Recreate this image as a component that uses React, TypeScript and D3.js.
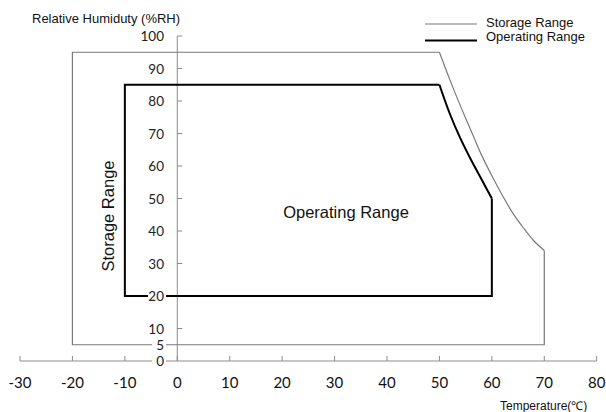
import React from "react";
import * as d3 from "d3";

const xTicks = [-30, -20, -10, 0, 10, 20, 30, 40, 50, 60, 70, 80];
const yTicks = [0, 5, 10, 20, 30, 40, 50, 60, 70, 80, 90, 100];
const yTickMarks = [10, 20, 30, 40, 50, 60, 70, 80, 90, 100];

// Storage range: straight edges (temperature °C, humidity %RH)
const storageEdgeT = [50, -20, -20, 70, 70];
const storageEdgeRH = [95, 95, 5, 5, 34];
// Storage range: curved high-temperature edge
const storageCurveT = [50, 52, 54, 56, 58, 60, 62, 64, 66, 68, 70];
const storageCurveRH = [95, 86.5, 78.5, 71, 63.5, 57, 51, 45.5, 41, 37, 34];
// Operating range: straight edges
const operEdgeT = [50, -10, -10, 60, 60];
const operEdgeRH = [85, 85, 20, 20, 50];
// Operating range: curved edge
const operCurveT = [50, 52, 54, 56, 58, 60];
const operCurveRH = [85, 76, 68.5, 62, 56, 50];

const legendLabels = ["Storage Range", "Operating Range"];

export default function App() {
  const W = 606, H = 412;
  const x = d3.scaleLinear().domain([-30, 80]).range([20, 596.7]);
  const y = d3.scaleLinear().domain([0, 100]).range([361, 36]);
  const lin = d3.line<[number, number]>().x(d => x(d[0])).y(d => y(d[1]));
  const smooth = d3.line<[number, number]>().x(d => x(d[0])).y(d => y(d[1])).curve(d3.curveCatmullRom);
  const zip = (a: number[], b: number[]) => a.map((t, i) => [t, b[i]] as [number, number]);
  const axisColor = "#8c8c8c";
  const tickFont = "Lato, 'Open Sans', sans-serif";
  const textFont = "'Liberation Sans', Arial, sans-serif";
  const storeColor = "#7a7a7a";
  return (
    <svg width={W} height={H} style={{ position: "absolute", left: 0, top: 0, background: "#fff" }}>
      <rect width={W} height={H} fill="#fff" />
      {/* axes */}
      <line x1={x(-30)} x2={x(80)} y1={y(0)} y2={y(0)} stroke={axisColor} strokeWidth={1} />
      <line x1={x(0)} x2={x(0)} y1={y(0)} y2={y(100)} stroke={axisColor} strokeWidth={1} />
      {xTicks.map(t => (
        <line key={"xt" + t} x1={x(t)} x2={x(t)} y1={y(0)} y2={y(0) - 5} stroke={axisColor} />
      ))}
      {yTickMarks.map(t => (
        <line key={"yt" + t} x1={x(0)} x2={x(0) + 5} y1={y(t)} y2={y(t)} stroke={axisColor} />
      ))}
      {/* ranges */}
      <path d={lin(zip(storageEdgeT, storageEdgeRH)) || ""} fill="none" stroke={storeColor} strokeWidth={1.2} strokeLinejoin="miter" />
      <path d={smooth(zip(storageCurveT, storageCurveRH)) || ""} fill="none" stroke={storeColor} strokeWidth={1.2} />
      <path d={lin(zip(operEdgeT, operEdgeRH)) || ""} fill="none" stroke="#000" strokeWidth={2} />
      <path d={smooth(zip(operCurveT, operCurveRH)) || ""} fill="none" stroke="#000" strokeWidth={2} />
      {/* y tick labels with white backing */}
      {yTicks.map(t => (
        <g key={"yl" + t}>
          <rect x={t >= 100 ? 140 : t >= 10 ? 148 : 152} y={y(t) - 7} width={t >= 100 ? 26 : t >= 10 ? 18 : 14} height={14} fill="#fff" />
          <text x={164} y={y(t) + 5} textAnchor="end" fontFamily={tickFont} fontSize={13.5} fill="#222">{t}</text>
        </g>
      ))}
      {xTicks.map(t => (
        <text key={"xl" + t} x={x(t)} y={388} textAnchor="middle" fontFamily={tickFont} fontSize={15} fill="#111">{t}</text>
      ))}
      <text x={32} y={22.5} fontFamily={textFont} fontSize={13} fill="#111">Relative Humiduty (%RH)</text>
      <text x={500} y={410} fontFamily={textFont} fontSize={12} fill="#111">Temperature(℃)</text>
      <text x={346} y={218} textAnchor="middle" fontFamily={textFont} fontSize={16.5} fill="#111">Operating Range</text>
      <text transform="translate(114,216) rotate(-90)" textAnchor="middle" fontFamily={textFont} fontSize={16.5} fill="#111">Storage Range</text>
      {/* legend */}
      <line x1={425} x2={477} y1={24} y2={24} stroke={storeColor} strokeWidth={1.2} />
      <line x1={425} x2={477} y1={40.5} y2={40.5} stroke="#000" strokeWidth={2} />
      <text x={486} y={26.5} fontFamily={textFont} fontSize={13} fill="#111">{legendLabels[0]}</text>
      <text x={486} y={40.5} fontFamily={textFont} fontSize={13} fill="#111">{legendLabels[1]}</text>
    </svg>
  );
}
